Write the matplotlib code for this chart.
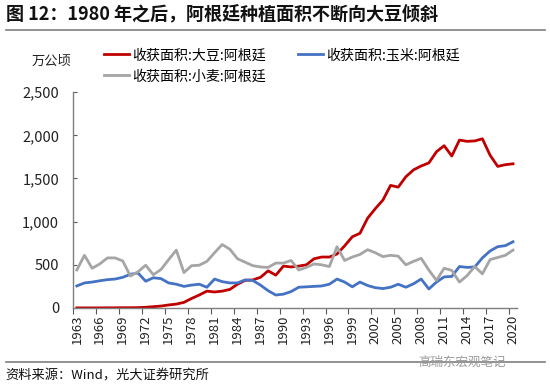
import matplotlib
matplotlib.use('Agg')
import matplotlib.pyplot as plt
from matplotlib.ticker import FuncFormatter, FixedLocator

plt.rcParams['font.family'] = ['Noto Sans CJK SC', 'DejaVu Sans']

# 收获面积（万公顷），1963-2020
years = list(range(1963, 2021))
soybean = [1, 1, 1, 1, 2, 2, 3, 3, 4, 8,
           15, 22, 35, 45, 65, 110, 150, 195, 185, 195,
           215, 275, 320, 325, 355, 430, 380, 485, 475, 485,
           500, 570, 590, 590, 625, 720, 825, 865, 1040, 1150,
           1250, 1420, 1400, 1520, 1600, 1645, 1680, 1810, 1880, 1760,
           1945, 1930, 1935, 1960, 1770, 1640, 1660, 1670]
maize = [255, 290, 300, 315, 328, 335, 355, 390, 405, 310,
         350, 340, 290, 275, 250, 265, 275, 240, 335, 305,
         290, 290, 325, 318, 265, 200, 150, 160, 190, 240,
         245, 250, 255, 275, 335, 300, 245, 300, 260, 235,
         225, 240, 275, 240, 280, 335, 220, 300, 360, 365,
         480, 470, 475, 580, 660, 710, 722, 767]
wheat = [440, 610, 460, 510, 580, 580, 545, 370, 420, 495,
         385, 445, 560, 670, 410, 490, 495, 540, 640, 735,
         680, 570, 530, 490, 475, 470, 520, 520, 550, 440,
         470, 510, 500, 480, 710, 550, 590, 620, 675, 640,
         595, 610, 600, 500, 540, 575, 440, 320, 460, 435,
         300, 375, 480, 395, 560, 585, 610, 670]
tick_years = years[::3]

fig = plt.figure(figsize=(5.5, 3.84), dpi=100)
ax = fig.add_axes([0.1327, 0.198, 0.807, 0.562])

l_soy, = ax.plot(years, soybean, color='#C00000', lw=2.0, solid_joinstyle='round')
l_maize, = ax.plot(years, maize, color='#4472C4', lw=2.0, solid_joinstyle='round')
l_wheat, = ax.plot(years, wheat, color='#A5A5A5', lw=2.0, solid_joinstyle='round')

ax.set_xlim(years[0] - 0.5, years[-1] + 0.5)
ax.set_ylim(0, 2500)
ax.set_yticks(range(0, 2501, 500))
ax.yaxis.set_major_formatter(FuncFormatter(lambda v, _: '{:,.0f}'.format(v)))
ax.set_xticks(tick_years)
ax.set_xticklabels([str(y) for y in tick_years], rotation=90)
ax.xaxis.set_minor_locator(FixedLocator([y - 0.5 for y in tick_years]))
ax.tick_params(axis='x', which='major', length=0, pad=5, labelsize=9.5, colors='#222222')
ax.tick_params(axis='x', which='minor', length=4, width=0.8, color='#595959', direction='out')
ax.tick_params(axis='y', length=3, width=0.8, color='#595959', direction='in', labelsize=10.5, pad=10,
               labelcolor='#222222')

for s in ['top', 'right']:
    ax.spines[s].set_visible(False)
for s in ['left', 'bottom']:
    ax.spines[s].set_color('#7f7f7f')
    ax.spines[s].set_linewidth(1.0)

# 图例
fig.legend([l_soy, l_wheat, l_maize],
           ['收获面积:大豆:阿根廷', '收获面积:小麦:阿根廷', '收获面积:玉米:阿根廷'],
           ncol=2, loc='upper left', bbox_to_anchor=(0.189, 0.874), frameon=False,
           fontsize=10.1, handlelength=1.8, handletextpad=0.2, columnspacing=2.3,
           labelspacing=0.5, borderaxespad=0, borderpad=0)

fig.text(0.093, 0.84, '万公顷', fontsize=9.5, ha='center', va='center', color='#222222')

# 标题和来源
fig.text(0.01, 0.962, '图 12：1980 年之后，阿根廷种植面积不断向大豆倾斜', fontsize=13,
         fontweight='bold', ha='left', va='center', color='#111111')
fig.add_artist(plt.Line2D([0.01, 0.99], [0.923, 0.923], color='#7f7f7f', lw=1.2))
fig.add_artist(plt.Line2D([0.01, 0.99], [0.058, 0.058], color='#7f7f7f', lw=1.2))
fig.text(0.01, 0.022, '资料来源：Wind，光大证券研究所', fontsize=9.5, ha='left', va='center',
         color='#111111')
fig.text(0.92, 0.056, '高瑞东宏观笔记', fontsize=9, ha='right', va='center', color='#9a9a9a')

fig.savefig('out.png', dpi=100)
